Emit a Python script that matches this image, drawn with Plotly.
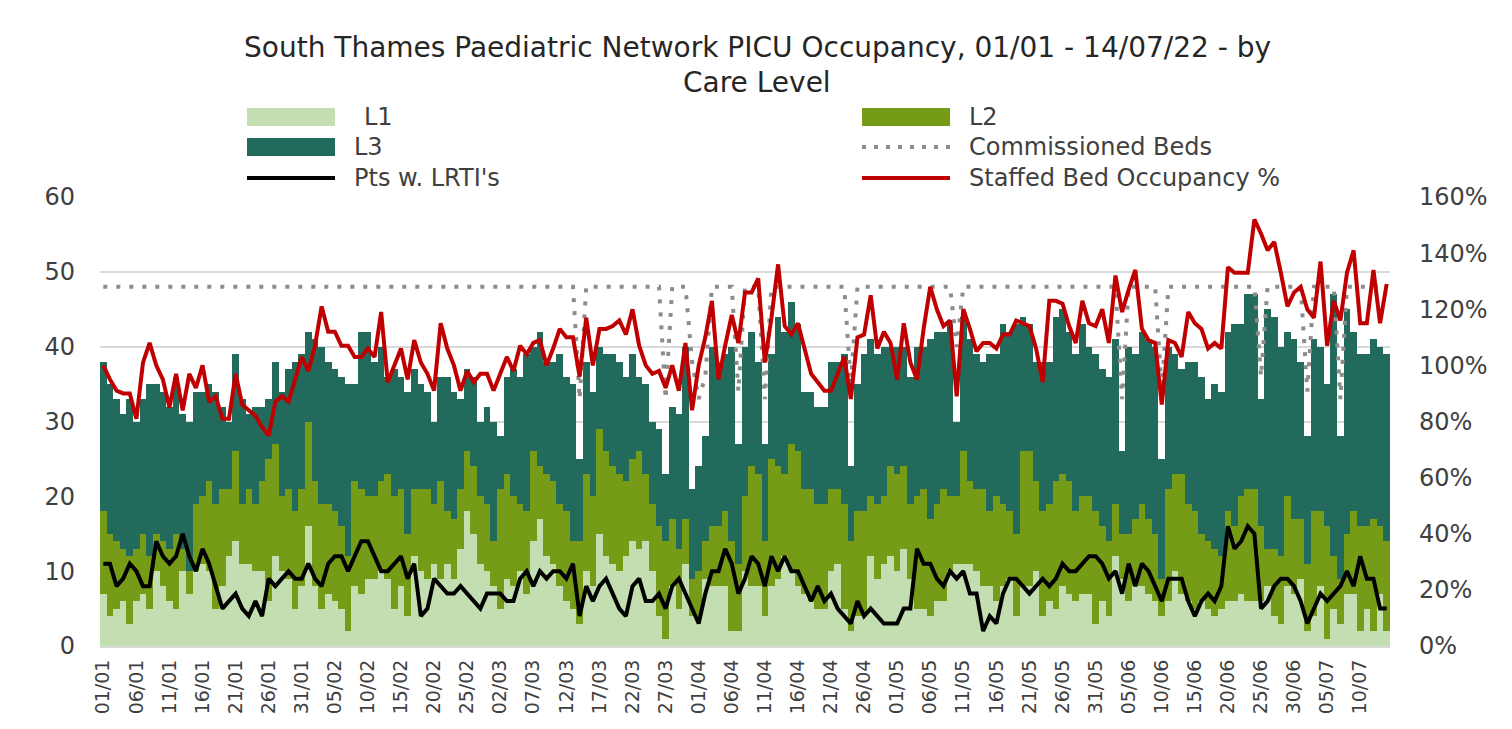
import plotly.graph_objects as go
import pandas as pd

# ---------------- data ----------------
dates = pd.date_range("2022-01-01", "2022-07-14", freq="D")
day_labels = [d.strftime("%d/%m") for d in dates]
tick_labels = day_labels[::5]

l1 = [
    7, 4, 5, 6, 3, 6, 7, 5, 10, 8, 6, 5, 10, 7, 10, 11, 10, 5, 8, 12, 14, 11, 11, 10, 10,
    6, 12, 10, 9, 5, 8, 16, 8, 5, 7, 6, 5, 2, 8, 7, 9, 9, 10, 9, 5, 8, 4, 12, 10, 9,
    11, 9, 11, 9, 13, 18, 15, 11, 10, 8, 5, 9, 8, 10, 7, 14, 17, 12, 11, 8, 6, 5, 3, 10, 8,
    15, 12, 11, 10, 12, 14, 13, 14, 10, 4, 1, 8, 5, 11, 4, 4, 9, 8, 8, 8, 2, 2, 10, 8, 8,
    4, 8, 9, 12, 10, 8, 7, 6, 5, 5, 10, 11, 5, 2, 4, 4, 12, 9, 11, 12, 10, 13, 9, 5, 5,
    4, 6, 6, 10, 11, 11, 11, 10, 8, 8, 6, 8, 9, 4, 8, 8, 10, 4, 6, 5, 8, 7, 6, 7, 7,
    3, 6, 4, 12, 9, 6, 8, 8, 7, 6, 4, 6, 10, 7, 6, 5, 6, 5, 4, 5, 6, 6, 7, 6, 6,
    6, 8, 4, 3, 8, 7, 9, 2, 4, 8, 1, 5, 3, 7, 7, 2, 5, 2, 7, 2,
]

l2 = [
    11, 11, 9, 7, 9, 7, 8, 7, 5, 6, 7, 10, 3, 3, 9, 9, 12, 14, 13, 9, 12, 8, 10, 9, 12,
    19, 15, 10, 12, 13, 13, 14, 14, 14, 12, 12, 11, 10, 14, 14, 11, 11, 12, 14, 15, 13, 11, 9, 11, 12,
    8, 13, 7, 8, 8, 8, 9, 9, 9, 6, 16, 14, 12, 9, 11, 12, 7, 11, 11, 11, 12, 9, 11, 13, 12,
    14, 14, 13, 13, 10, 11, 13, 9, 9, 12, 13, 9, 8, 6, 5, 6, 5, 8, 8, 10, 12, 9, 10, 16, 15,
    10, 17, 15, 11, 17, 18, 14, 15, 14, 14, 11, 10, 14, 12, 14, 14, 8, 10, 9, 12, 13, 11, 10, 15, 16,
    13, 13, 15, 10, 9, 15, 11, 11, 13, 10, 14, 11, 9, 11, 18, 18, 12, 14, 13, 17, 15, 15, 12, 13, 13,
    15, 10, 10, 7, 6, 9, 9, 11, 10, 9, 5, 15, 13, 16, 13, 13, 9, 9, 9, 7, 12, 10, 13, 15, 15,
    10, 5, 9, 9, 12, 10, 8, 9, 14, 10, 15, 7, 6, 8, 11, 14, 11, 15, 9, 12,
]

l3 = [
    20, 20, 19, 18, 21, 17, 18, 23, 20, 20, 19, 21, 18, 20, 15, 14, 13, 15, 11, 9, 13, 14, 10, 13, 10,
    8, 11, 14, 16, 20, 18, 12, 19, 21, 19, 19, 20, 23, 13, 21, 22, 18, 18, 13, 17, 15, 19, 16, 14, 13,
    11, 14, 18, 17, 12, 11, 12, 10, 13, 16, 7, 13, 17, 17, 21, 14, 18, 15, 16, 20, 18, 21, 11, 15, 14,
    11, 13, 15, 15, 14, 14, 10, 12, 11, 13, 9, 15, 18, 23, 12, 14, 14, 24, 22, 21, 26, 16, 20, 18, 15,
    13, 14, 20, 19, 19, 17, 13, 13, 13, 13, 17, 17, 20, 10, 17, 21, 21, 20, 20, 16, 17, 16, 17, 20, 19,
    24, 23, 21, 23, 10, 18, 19, 18, 17, 21, 19, 24, 24, 28, 18, 17, 16, 20, 19, 22, 22, 20, 21, 23, 20,
    21, 21, 22, 22, 11, 25, 22, 23, 24, 25, 16, 19, 16, 14, 19, 20, 21, 19, 22, 22, 24, 27, 23, 26, 26,
    17, 32, 31, 28, 22, 24, 21, 17, 23, 22, 19, 35, 19, 30, 24, 23, 23, 24, 24, 25,
]

commissioned_beds = [
    48, 48, 48, 48, 48, 48, 48, 48, 48, 48, 48, 48, 48, 48, 48, 48, 48, 48, 48, 48, 48, 48, 48, 48, 48,
    48, 48, 48, 48, 48, 48, 48, 48, 48, 48, 48, 48, 48, 48, 48, 48, 48, 48, 48, 48, 48, 48, 48, 48, 48,
    48, 48, 48, 48, 48, 48, 48, 48, 48, 48, 48, 48, 48, 48, 48, 48, 48, 48, 48, 48, 48, 48, 33, 48, 48,
    48, 48, 48, 48, 48, 48, 48, 48, 48, 48, 33, 48, 48, 48, 38, 33, 36, 48, 48, 48, 48, 34, 48, 48, 48,
    33, 48, 48, 48, 48, 48, 48, 48, 48, 48, 48, 48, 48, 35, 48, 48, 48, 48, 48, 48, 48, 48, 48, 48, 48,
    48, 48, 48, 48, 40, 48, 48, 48, 48, 48, 48, 48, 48, 48, 48, 48, 48, 48, 48, 48, 48, 48, 48, 48, 48,
    48, 48, 48, 48, 33, 48, 48, 48, 48, 48, 34, 48, 48, 48, 48, 48, 48, 48, 48, 48, 48, 48, 48, 48, 48,
    36, 48, 48, 48, 48, 48, 48, 34, 48, 48, 48, 48, 33, 48, 48, 48, 48, 48, 48, 48,
]

lrti_patients = [
    11, 11, 8, 9, 11, 10, 8, 8, 14, 12, 11, 12, 15, 12, 10, 13, 11, 8, 5, 6, 7, 5, 4, 6, 4,
    9, 8, 9, 10, 9, 9, 11, 9, 8, 11, 12, 12, 10, 12, 14, 14, 12, 10, 10, 11, 12, 9, 11, 4, 5,
    9, 8, 7, 7, 8, 7, 6, 5, 7, 7, 7, 6, 6, 9, 10, 8, 10, 9, 10, 10, 9, 11, 4, 8, 6,
    8, 9, 7, 5, 4, 8, 9, 6, 6, 7, 5, 8, 9, 7, 5, 3, 7, 10, 10, 13, 11, 7, 9, 12, 11,
    8, 12, 10, 12, 10, 10, 8, 6, 8, 6, 7, 5, 4, 3, 6, 4, 5, 4, 3, 3, 3, 5, 5, 13, 11,
    11, 9, 8, 10, 9, 10, 7, 7, 2, 4, 3, 7, 9, 9, 8, 7, 8, 9, 8, 9, 11, 10, 10, 11, 12,
    12, 11, 9, 10, 7, 11, 8, 11, 10, 8, 6, 9, 9, 9, 6, 4, 6, 7, 6, 8, 16, 13, 14, 16, 15,
    5, 6, 8, 9, 9, 8, 6, 3, 5, 7, 6, 7, 8, 10, 8, 12, 9, 9, 5, 5,
]

staffed_occupancy_pct = [
    100, 95, 91, 90, 90, 81, 101, 108, 100, 95, 85, 97, 84, 97, 92, 100, 87, 89, 81, 81, 97, 86, 84, 82, 78,
    75, 87, 89, 87, 95, 103, 98, 107, 121, 112, 112, 107, 107, 103, 103, 106, 103, 119, 94, 100, 106, 95, 109, 101, 97,
    91, 115, 106, 100, 91, 98, 94, 97, 97, 91, 97, 103, 98, 107, 104, 108, 109, 100, 106, 113, 110, 110, 96, 117, 100,
    113, 113, 114, 116, 111, 120, 107, 100, 97, 98, 92, 100, 91, 108, 84, 100, 110, 123, 95, 107, 118, 108, 126, 126, 131,
    101, 117, 136, 114, 111, 115, 106, 97, 94, 91, 91, 97, 103, 88, 110, 111, 125, 106, 112, 108, 95, 115, 101, 95, 113,
    128, 120, 114, 116, 89, 120, 113, 105, 108, 108, 106, 111, 111, 116, 115, 114, 106, 94, 123, 123, 122, 114, 108, 123, 115,
    114, 120, 108, 132, 119, 127, 134, 113, 109, 108, 86, 109, 108, 103, 119, 115, 113, 106, 108, 106, 135, 133, 133, 133, 152,
    147, 141, 144, 133, 121, 126, 128, 120, 117, 137, 107, 123, 116, 133, 141, 115, 115, 134, 115, 129,
]

# ---------------- styles ----------------
C_L1 = "#c3dfb1"
C_L2 = "#769c17"
C_L3 = "#216a5c"
C_BEDS = "#8c8c8c"
C_LRTI = "#000000"
C_OCC = "#c00000"
FONT = "DejaVu Sans"
TXT = "#404040"

# The page body adds an 8px offset; figure is sized so that it fills the window.
OFF = 8
W, H = 1512 - OFF, 729 - OFF
# plot area in screen pixels: x 100..1390, y 197..646
ML, MT = 100 - OFF, 197 - OFF
MR = W - (1390 - OFF)
MB = H - (646 - OFF)
PW, PH = W - ML - MR, H - MT - MB


def px(xs):
    """screen x -> paper x"""
    return (xs - OFF - ML) / PW


def py(ys):
    """screen y -> paper y"""
    return (H - MB - (ys - OFF)) / PH


fig = go.Figure()
fig.add_trace(go.Bar(x=day_labels, y=l1, name="L1", marker=dict(color=C_L1, line_width=0)))
fig.add_trace(go.Bar(x=day_labels, y=l2, name="L2", marker=dict(color=C_L2, line_width=0)))
fig.add_trace(go.Bar(x=day_labels, y=l3, name="L3", marker=dict(color=C_L3, line_width=0)))
fig.add_trace(go.Scatter(x=day_labels, y=commissioned_beds, mode="lines", name="Commissioned Beds",
                         line=dict(color=C_BEDS, width=4, dash="4px,9px")))
fig.add_trace(go.Scatter(x=day_labels, y=lrti_patients, mode="lines", name="Pts w. LRTI's",
                         line=dict(color=C_LRTI, width=4)))
fig.add_trace(go.Scatter(x=day_labels, y=staffed_occupancy_pct, mode="lines", name="Staffed Bed Occupancy %",
                         yaxis="y2", line=dict(color=C_OCC, width=4)))

# ---------------- custom legend (wide swatches as in the reference) ----------------
shapes = []
annots = []
rows = [117, 147, 178]
col_sw = [(247, 335), (862, 950)]
col_tx = [352, 967]
items = [
    (0, 0, "rect", C_L1, "L1"),
    (1, 0, "rect", C_L2, "L2"),
    (0, 1, "rect", C_L3, "L3"),
    (1, 1, "dot", C_BEDS, "Commissioned Beds"),
    (0, 2, "line", C_LRTI, "Pts w. LRTI's"),
    (1, 2, "line", C_OCC, "Staffed Bed Occupancy %"),
]
for col, row, kind, color, label in items:
    x0, x1 = col_sw[col]
    yc = rows[row]
    if kind == "rect":
        shapes.append(dict(type="rect", xref="paper", yref="paper", x0=px(x0), x1=px(x1),
                           y0=py(yc + 9), y1=py(yc - 9), fillcolor=color, line_width=0))
    else:
        shapes.append(dict(type="line", xref="paper", yref="paper", x0=px(x0), x1=px(x1),
                           y0=py(yc), y1=py(yc),
                           line=dict(color=color, width=4,
                                     dash="4px,8px" if kind == "dot" else "solid")))
    tx = col_tx[col] + (10 if label == "L1" else 0)
    annots.append(dict(xref="paper", yref="paper", x=px(tx), y=py(yc), xanchor="left", yanchor="middle",
                       text=label, showarrow=False, font=dict(family=FONT, size=24, color=TXT)))

# title as two centred lines (screen centres y≈48 and y≈82)
title_lines = ["South Thames Paediatric Network PICU Occupancy, 01/01 - 14/07/22 - by", "Care Level"]
for txt, yc in zip(title_lines, [48, 82]):
    annots.append(dict(xref="paper", yref="paper", x=px(757), y=py(yc), xanchor="center", yanchor="middle",
                       text=txt, showarrow=False, font=dict(family=FONT, size=28, color="#262626")))

fig.update_layout(
    width=W, height=H,
    margin=dict(l=ML, r=MR, t=MT, b=MB),
    barmode="stack", bargap=0,
    showlegend=False,
    plot_bgcolor="white", paper_bgcolor="white",
    font=dict(family=FONT, size=22, color=TXT),
    xaxis=dict(type="category", tickmode="array", tickvals=tick_labels, ticktext=tick_labels,
               tickangle=-90, tickfont=dict(size=19), showgrid=False, ticks="",
               showline=True, linecolor="#d9d9d9", linewidth=2, ticklabelstandoff=4),
    yaxis=dict(range=[0, 60], dtick=10, showgrid=True, gridcolor="#d9d9d9", gridwidth=2,
               zeroline=False, ticks="", ticklabelstandoff=24, tickfont=dict(size=24)),
    yaxis2=dict(range=[0, 160], dtick=20, ticksuffix="%", overlaying="y", side="right",
                showgrid=False, zeroline=False, ticks="", ticklabelstandoff=28, tickfont=dict(size=24)),
    shapes=shapes,
    annotations=annots,
)

fig.write_html("out.html")
